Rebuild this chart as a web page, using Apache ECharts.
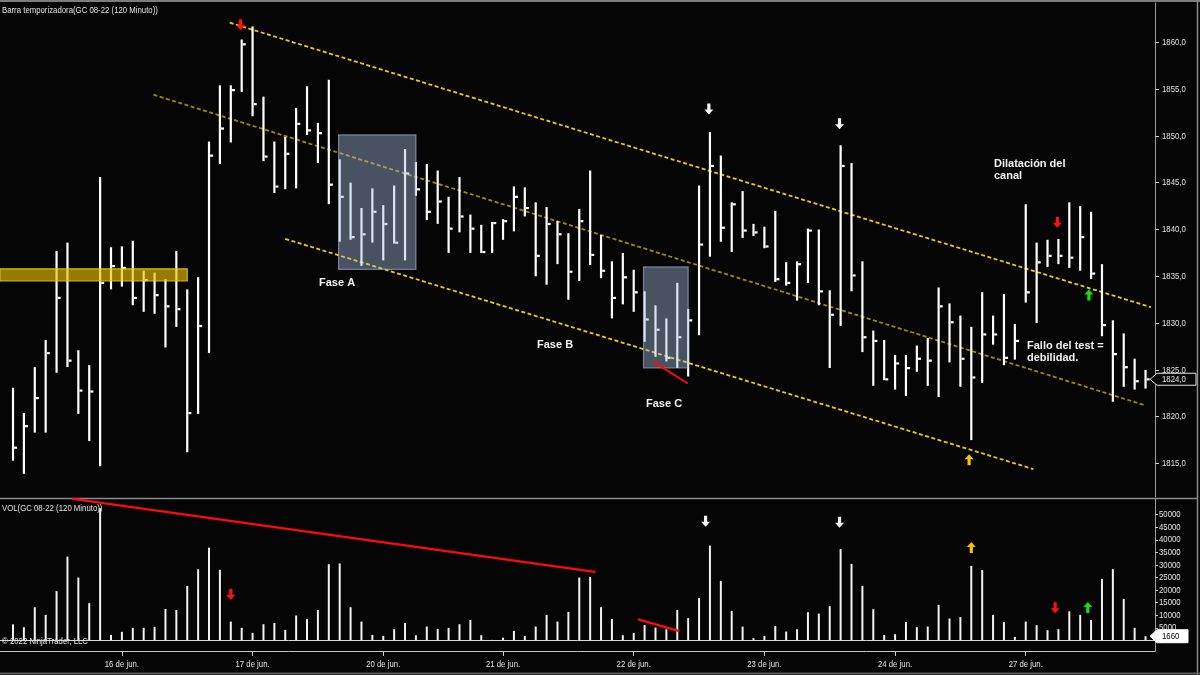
<!DOCTYPE html>
<html><head><meta charset="utf-8">
<script src="https://cdn.jsdelivr.net/npm/echarts@6/dist/echarts.min.js"></script>
<style>html,body{margin:0;padding:0;background:#050505}#c{width:1200px;height:675px}</style>
</head><body><div id="c"></div>
<script>
// ---------- data ----------
const dayIndex  = [10, 22, 34, 45, 57, 69, 81, 93];
const dayLabels = ['16 de jun.','17 de jun.','20 de jun.','21 de jun.','22 de jun.','23 de jun.','24 de jun.','27 de jun.'];
const priceTicks  = [1815,1820,1825,1830,1835,1840,1845,1850,1855,1860];
const volumeTicks = [0,5000,10000,15000,20000,25000,30000,35000,40000,45000,50000];

const highs = [1823.1,1820.4,1825.3,1828.2,1837.7,1838.6,1827.1,1825.5,1845.6,1838.1,
1838.2,1838.8,1835.6,1835.4,1834.7,1837.7,1833.6,1834.9,1849.4,1855.4,
1855.4,1860.3,1861.7,1854.2,1849.4,1849.9,1853.0,1855.3,1851.4,1856.0,
1847.5,1845.0,1842.3,1844.4,1842.6,1844.7,1848.6,1847.2,1847.0,1846.3,
1843.5,1845.6,1841.6,1840.5,1840.8,1841.1,1844.6,1844.5,1842.9,1842.4,
1840.9,1839.6,1842.2,1846.3,1839.4,1836.6,1837.5,1835.7,1833.4,1831.9,
1830.5,1834.3,1831.5,1844.7,1850.4,1847.9,1842.9,1844.1,1840.6,1840.3,
1842.0,1836.5,1836.6,1840.1,1840.0,1833.5,1849.0,1847.1,1836.6,1829.2,
1828.2,1826.6,1826.6,1827.6,1828.4,1833.8,1832.1,1830.8,1829.6,1833.3,
1830.8,1833.1,1829.9,1842.7,1838.6,1838.9,1839.0,1842.9,1842.5,1841.9,
1836.3,1830.3,1828.9,1826.2,1825.0];
const lows = [1815.3,1813.9,1818.3,1818.3,1824.7,1825.3,1820.3,1817.4,1814.7,1833.6,
1833.9,1831.9,1831.2,1831.0,1827.4,1829.6,1816.2,1820.3,1826.8,1847.0,
1849.3,1854.7,1852.1,1847.3,1843.9,1844.3,1844.4,1850.1,1847.1,1842.7,
1838.7,1838.9,1836.1,1838.6,1836.7,1838.5,1836.7,1843.6,1841.0,1840.6,
1837.5,1839.7,1837.5,1837.5,1837.5,1838.9,1839.8,1841.4,1835.0,1834.1,
1836.3,1832.5,1834.5,1836.2,1834.8,1830.5,1832.0,1831.2,1828.0,1826.4,
1825.9,1825.2,1824.3,1828.7,1837.1,1838.7,1837.6,1839.1,1839.3,1838.0,
1834.4,1834.0,1832.4,1834.3,1831.9,1825.2,1829.7,1833.4,1826.9,1823.3,
1823.9,1822.9,1822.2,1824.8,1823.3,1822.1,1825.8,1823.2,1817.5,1823.6,
1827.7,1825.5,1826.1,1832.2,1830.0,1836.0,1836.3,1835.9,1835.6,1834.7,
1828.6,1821.6,1823.2,1822.9,1823.0];
const closes = [1816.7,1819.0,1822.0,1826.8,1832.7,1826.0,1822.8,1822.7,1834.3,1836.1,
1835.9,1832.7,1834.6,1833.0,1831.8,1831.5,1820.4,1829.7,1847.9,1850.8,
1854.9,1859.8,1853.4,1847.8,1844.6,1848.1,1851.3,1850.6,1850.3,1844.8,
1843.5,1839.2,1839.5,1841.9,1840.6,1838.6,1846.0,1844.3,1841.9,1843.0,
1840.1,1841.4,1840.1,1837.6,1840.7,1840.9,1843.5,1842.3,1837.2,1840.6,
1839.5,1835.5,1840.9,1837.3,1835.6,1832.7,1834.9,1833.3,1830.4,1829.3,
1826.3,1828.5,1830.3,1838.4,1846.8,1840.2,1842.7,1839.9,1839.7,1838.2,
1834.7,1834.3,1836.3,1839.9,1833.4,1830.9,1846.8,1835.1,1828.5,1828.1,
1824.0,1825.7,1825.2,1826.2,1826.0,1831.8,1830.1,1826.2,1824.2,1828.8,
1828.8,1826.3,1828.1,1833.3,1836.5,1837.2,1837.2,1837.0,1839.2,1835.3,
1829.8,1826.7,1825.3,1823.8,1824.0];
const volumes = [6400,5250,13200,10150,19600,33350,25000,14800,52600,2200,
3400,5000,5000,5400,12500,12100,21700,28300,36900,28100,
7500,5000,3000,6450,6950,4200,9900,8450,12100,30300,
30600,13200,7500,2200,1800,4450,6950,2050,5500,4600,
5000,6450,8150,2050,200,1100,3800,1800,5500,10150,
7500,11350,25000,25300,13200,8550,2050,3000,6150,5100,
4450,12150,8850,16800,37700,23700,11750,5500,900,1800,
5750,3500,4450,11200,10650,13600,36300,30450,21700,12400,
2200,2450,7350,5250,5500,14150,8700,9250,29650,27950,
10150,7250,1400,7500,6050,4050,4450,11600,10150,8150,
24500,28350,16500,5000,1660];

// annotations in data space: [barIndex, price] / [barIndex, volume]
const channelUpper = [[19.9,1862.1],[104.5,1831.7]];
const channelMid   = [[12.9,1854.4],[104.0,1821.2]];
const channelLower = [[25.0,1839.0],[93.7,1814.4]];
const phaseBoxes   = [[29.9,1850.1,37.0,1835.75],[57.9,1836.0,62.0,1825.2]];
const supportBand  = [[-1.2,1835.8,16.0,1834.5]];
const priceRedLines = [[58.9,1825.8,61.9,1823.6]];
const volumeRedLines = [[5.5,56300,53.4,27260],[57.5,8280,61.1,3780]];
const priceArrows = [[20.9,1861.3,'down','red'],[63.9,1852.3,'down','white'],[75.9,1850.7,'down','white'],
                     [95.9,1840.2,'down','red'],[98.8,1833.6,'up','green'],[87.8,1816.0,'up','yellow']];
const volumeArrows = [[20.0,16080,'down','red'],[63.6,45250,'down','white'],[75.9,44850,'down','white'],
                      [88.0,39160,'up','yellow'],[95.7,10790,'down','red'],[98.7,15280,'up','green']];

// ---------- styling ----------
const SANS = "'Liberation Sans',Arial,sans-serif";
const NARROW_SCALE = 0.82;
const arrowColors = {red:'#ff1010', white:'#f4f4f4', green:'#12e012', yellow:'#f2c400'};
const X_MIN = -1.194, X_MAX = 104.87;

const chart = echarts.init(document.getElementById('c'), null, {renderer:'canvas'});

function hlcItem(params, api){
  const i = api.value(0);
  const hi = api.coord([i, api.value(1)]);
  const lo = api.coord([i, api.value(2)]);
  const cl = api.coord([i, api.value(3)]);
  return {type:'group', children:[
    {type:'rect', shape:{x:hi[0]-1.1, y:hi[1], width:2.2, height:Math.max(1, lo[1]-hi[1])}, style:{fill:'#ffffff'}},
    {type:'rect', shape:{x:hi[0]+1.1, y:cl[1]-1, width:3, height:2.2}, style:{fill:'#ffffff'}}
  ]};
}
function volItem(params, api){
  const i = api.value(0);
  const top = api.coord([i, api.value(1)]);
  const base = api.coord([i, 0]);
  return {type:'rect', shape:{x:top[0]-1, y:top[1], width:2, height:base[1]-top[1]}, style:{fill:'#f2f2f2'}};
}
function boxItem(fill, stroke){
  return function(params, api){
    const a = api.coord([api.value(0), api.value(1)]);
    const b = api.coord([api.value(2), api.value(3)]);
    return {type:'rect', shape:{x:a[0], y:a[1], width:b[0]-a[0], height:b[1]-a[1]},
            style:{fill:fill, stroke:stroke, lineWidth:1.2}};
  };
}
function segItem(color, width){
  return function(params, api){
    const a = api.coord([api.value(0), api.value(1)]);
    const b = api.coord([api.value(2), api.value(3)]);
    return {type:'line', shape:{x1:a[0], y1:a[1], x2:b[0], y2:b[1]}, style:{stroke:color, lineWidth:width, lineCap:'round'}};
  };
}
function arrowItem(params, api){
  const p = api.coord([api.value(0), api.value(1)]);
  const dir = api.value(2) === 'up' ? -1 : 1;
  const col = arrowColors[api.value(3)];
  const pts = [[0,0],[-4.5,-5],[-1.6,-5],[-1.6,-11],[1.6,-11],[1.6,-5],[4.5,-5]]
    .map(q => [p[0]+q[0], p[1]+q[1]*dir]);
  return {type:'polygon', shape:{points:pts}, style:{fill:col}};
}
function lineSeries(name, pts, color, dash){
  return {type:'line', name, xAxisIndex:0, yAxisIndex:0, data:pts, symbol:'none', silent:true, z:3,
          lineStyle:{color, width:1.8, type:dash}};
}

const hlcData = highs.map((h,i)=>[i, h, lows[i], closes[i]]);
const volData = volumes.map((v,i)=>[i, v]);
const lastClose = closes[closes.length-1];
const lastVol = volumes[volumes.length-1];

const option = {
  backgroundColor:'#050505',
  animation:false,
  grid:[
    {left:0, right:45, top:3, height:494},
    {left:0, right:45, top:499, height:152}
  ],
  xAxis:[
    {gridIndex:0, type:'value', min:X_MIN, max:X_MAX, show:false},
    {gridIndex:1, type:'value', min:X_MIN, max:X_MAX, position:'bottom',
     axisLine:{show:true, onZero:false, lineStyle:{color:'#c8c8c8', width:1}},
     axisTick:{show:true, customValues:dayIndex, length:5, lineStyle:{color:'#c8c8c8'}},
     axisLabel:{show:false},
     splitLine:{show:false}}
  ],
  yAxis:[
    {gridIndex:0, type:'value', position:'right', min:1811.42, max:1864.2,
     axisLine:{show:true, onZero:false, lineStyle:{color:'#9a9a9a', width:1}},
     axisTick:{show:true, customValues:priceTicks, length:4, lineStyle:{color:'#c8c8c8'}},
     axisLabel:{show:false},
     splitLine:{show:false}},
    {gridIndex:1, type:'value', position:'right', min:-4217, max:56250,
     axisLine:{show:true, onZero:false, lineStyle:{color:'#9a9a9a', width:1}},
     axisTick:{show:true, customValues:volumeTicks, length:3, lineStyle:{color:'#c8c8c8'}},
     axisLabel:{show:false},
     splitLine:{show:false}}
  ],
  series:[
    lineSeries('channelMid', channelMid, '#a38900', [4,2.5]),
    lineSeries('channelUpper', channelUpper, '#f0cc00', [4,2.5]),
    lineSeries('channelLower', channelLower, '#f0cc00', [4,2.5]),
    {type:'custom', name:'price', xAxisIndex:0, yAxisIndex:0, data:hlcData, renderItem:hlcItem, z:4, silent:true},
    {type:'custom', name:'band', xAxisIndex:0, yAxisIndex:0, data:supportBand,
     renderItem:boxItem('rgba(235,195,0,0.63)','rgba(240,205,0,0.85)'), z:5, silent:true},
    {type:'custom', name:'phases', xAxisIndex:0, yAxisIndex:0, data:phaseBoxes,
     renderItem:boxItem('rgba(170,190,225,0.42)','rgba(170,190,225,0.6)'), z:5, silent:true},
    {type:'custom', name:'priceRed', xAxisIndex:0, yAxisIndex:0, data:priceRedLines,
     renderItem:segItem('#ff0a0a',2), z:6, silent:true},
    {type:'custom', name:'priceArrows', xAxisIndex:0, yAxisIndex:0, data:priceArrows,
     renderItem:arrowItem, z:7, silent:true},
    {type:'custom', name:'volume', xAxisIndex:1, yAxisIndex:1, data:volData, renderItem:volItem, z:4, silent:true,
     markLine:{silent:true, symbol:'none', animation:false,
       data:[{yAxis:0, lineStyle:{color:'#d8d8d8', width:1, type:'solid'}, label:{show:false}}]}},
    {type:'custom', name:'volRed', xAxisIndex:1, yAxisIndex:1, data:volumeRedLines,
     renderItem:segItem('#ff0a0a',2.5), z:6, silent:true},
    {type:'custom', name:'volArrows', xAxisIndex:1, yAxisIndex:1, data:volumeArrows,
     renderItem:arrowItem, z:7, silent:true}
  ]
};
chart.setOption(option);

// ---------- text layer (narrow UI font emulated by horizontal scaling), placed via the chart's scales ----------
function uiText(txt, x, y, opts){
  opts = opts || {};
  return {type:'text', x:x, y:y, scaleX:NARROW_SCALE, silent:true, z:opts.z || 20,
    style:{text:txt, fill:opts.fill || '#e2e2e2', font:'9.5px '+SANS, align:opts.align || 'left', verticalAlign:'middle'}};
}
const fmtPrice = v => v.toFixed(1).replace('.',',');
const gfx = [
  {type:'line', shape:{x1:0,y1:1,x2:1200,y2:1}, style:{stroke:'#7c7c7c', lineWidth:2}, silent:true},
  {type:'line', shape:{x1:0,y1:498.5,x2:1197,y2:498.5}, style:{stroke:'#8c8c8c', lineWidth:1.5}, silent:true},
  {type:'line', shape:{x1:1197.5,y1:0,x2:1197.5,y2:675}, style:{stroke:'#8c8c8c', lineWidth:1.5}, silent:true},
  {type:'line', shape:{x1:0,y1:673.5,x2:1200,y2:673.5}, style:{stroke:'#5a5a5a', lineWidth:2}, silent:true},
  uiText('Barra temporizadora(GC 08-22 (120 Minuto))', 2, 10),
  uiText('VOL(GC 08-22 (120 Minuto))', 2, 508),
  uiText('© 2022 NinjaTrader, LLC', 2, 641),
  {type:'text', x:319, y:277, style:{text:'Fase A', fill:'#f4f4f4', font:'bold 11px '+SANS}, silent:true},
  {type:'text', x:537, y:339, style:{text:'Fase B', fill:'#f4f4f4', font:'bold 11px '+SANS}, silent:true},
  {type:'text', x:646, y:398, style:{text:'Fase C', fill:'#f4f4f4', font:'bold 11px '+SANS}, silent:true},
  {type:'text', x:994, y:158, style:{text:'Dilatación del\ncanal', fill:'#f4f4f4', font:'bold 11px '+SANS, lineHeight:12}, silent:true},
  {type:'text', x:1027, y:340, style:{text:'Fallo del test =\ndebilidad.', fill:'#f4f4f4', font:'bold 11px '+SANS, lineHeight:12}, silent:true}
];
const axisX = chart.convertToPixel({xAxisIndex:0}, X_MAX);
priceTicks.forEach(v => {
  const y = chart.convertToPixel({yAxisIndex:0}, v);
  gfx.push(uiText(fmtPrice(v), axisX + 7, y));
});
volumeTicks.forEach(v => {
  const y = chart.convertToPixel({yAxisIndex:1}, v);
  gfx.push(uiText(String(v), axisX + 4, y));
});
dayIndex.forEach((d, k) => {
  const x = chart.convertToPixel({xAxisIndex:1}, d);
  gfx.push(uiText(dayLabels[k], x, 664, {align:'center'}));
});
// last-value tags
const yc = chart.convertToPixel({yAxisIndex:0}, lastClose);
gfx.push({type:'polygon', z:25, silent:true,
  shape:{points:[[axisX-5,yc],[axisX+2,yc-6],[1196,yc-6],[1196,yc+6],[axisX+2,yc+6]]},
  style:{fill:'#060606', stroke:'#e4e4e4', lineWidth:1}});
gfx.push(uiText(fmtPrice(lastClose), axisX + 7, yc, {fill:'#e8e8e8', z:26}));
const yv = chart.convertToPixel({yAxisIndex:1}, lastVol);
gfx.push({type:'polygon', z:25, silent:true,
  shape:{points:[[axisX-5,yv],[axisX+2,yv-6.5],[1188,yv-6.5],[1188,yv+6.5],[axisX+2,yv+6.5]]},
  style:{fill:'#ffffff', stroke:'#ffffff', lineWidth:1}});
gfx.push(uiText(String(lastVol), axisX + 7, yv, {fill:'#000000', z:26}));
chart.setOption({graphic: gfx});
</script>
</body></html>
